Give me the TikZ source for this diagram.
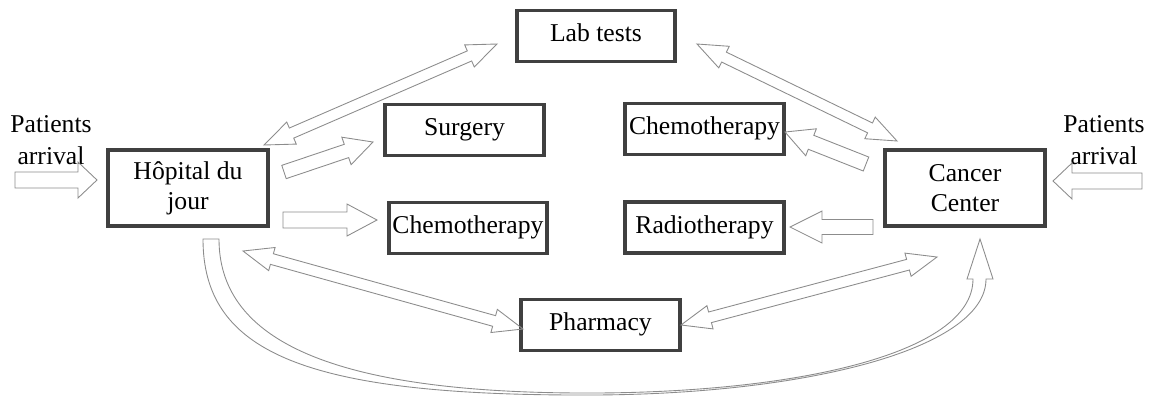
\documentclass[tikz,border=0pt]{standalone}
\usepackage{fontspec}
\setmainfont{Liberation Serif}
\usetikzlibrary{calc}

\definecolor{boxgray}{HTML}{404040}
\definecolor{arrowgray}{HTML}{8C8C8C}

% outlined block arrow: from, to, shaft half width, head half width, head length
\newcommand{\blockarrow}[5]{%
\coordinate (ba) at ($(#2)!#5!(#1)$);
\draw[arrowline] ($(#1)!#3!90:(#2)$) -- ($(ba)!#3!90:(#2)$) -- ($(ba)!#4!90:(#2)$) -- (#2)
  -- ($(ba)!#4!-90:(#2)$) -- ($(ba)!#3!-90:(#2)$) -- ($(#1)!#3!-90:(#2)$) -- cycle;}
% same with a head at both ends
\newcommand{\twoarrow}[5]{%
\coordinate (ta) at ($(#1)!#5!(#2)$);
\coordinate (tb) at ($(#2)!#5!(#1)$);
\draw[arrowline] (#1) -- ($(ta)!#4!90:(#2)$) -- ($(ta)!#3!90:(#2)$) -- ($(tb)!#3!90:(#2)$)
  -- ($(tb)!#4!90:(#2)$) -- (#2) -- ($(tb)!#4!-90:(#2)$) -- ($(tb)!#3!-90:(#2)$)
  -- ($(ta)!#3!-90:(#2)$) -- ($(ta)!#4!-90:(#2)$) -- cycle;}

\begin{document}
\begin{tikzpicture}
[x=0.02cm,y=-0.02cm,
 font=\fontsize{14.6pt}{17pt}\selectfont,
 box/.style={draw=boxgray,line width=2.2pt,minimum width=3.17cm,minimum height=1.02cm,inner sep=1pt,text height=0.66em,text depth=0pt},
 bigbox/.style={draw=boxgray,line width=2.2pt,minimum width=3.2cm,minimum height=1.52cm,inner sep=1pt,align=center},
 arrival/.style={align=center,font=\fontsize{14.6pt}{18.2pt}\selectfont},
 arrowline/.style={draw=arrowgray,line width=0.5pt}]
\useasboundingbox (0,0) rectangle (1151,396);

\node[box] (lab) at (596,36) {Lab tests};
\node[box] (surg) at (464.5,130) {Surgery};
\node[box] (chemo1) at (468,228) {Chemotherapy};
\node[box] (chemo2) at (704.5,129) {Chemotherapy};
\node[box] (radio) at (704.5,227.5) {Radiotherapy};
\node[box] (pharm) at (600.5,325) {Pharmacy};
\node[bigbox] (hop) at (188,188) {Hôpital du\\jour};
\node[bigbox] (cc) at (965,188) {Cancer\\Center};
\node[arrival] (in1) at (51,140) {Patients\\arrival};
\node[arrival] (in2) at (1104,140) {Patients\\arrival};

\coordinate (a1) at (15,180);   \coordinate (a1t) at (97,180);
\coordinate (a2) at (1142,181); \coordinate (a2t) at (1053,181);
\coordinate (a3) at (284,172);  \coordinate (a3t) at (373,142);
\coordinate (a4) at (283,220);  \coordinate (a4t) at (377,220);
\coordinate (a5) at (866,164);  \coordinate (a5t) at (785,132);
\coordinate (a6) at (873,227);  \coordinate (a6t) at (790,227);
\coordinate (b1) at (264,145);  \coordinate (b1t) at (497,44);
\coordinate (b2) at (697,44);   \coordinate (b2t) at (897,141);
\coordinate (b3) at (243,251);  \coordinate (b3t) at (523,329);
\coordinate (b4) at (681,325);  \coordinate (b4t) at (937,257);

\blockarrow{a1}{a1t}{0.16cm}{0.36cm}{0.38cm}
\blockarrow{a2}{a2t}{0.16cm}{0.36cm}{0.38cm}
\blockarrow{a3}{a3t}{0.14cm}{0.29cm}{0.56cm}
\blockarrow{a4}{a4t}{0.16cm}{0.32cm}{0.6cm}
\blockarrow{a5}{a5t}{0.15cm}{0.29cm}{0.56cm}
\blockarrow{a6}{a6t}{0.15cm}{0.32cm}{0.64cm}
\twoarrow{b1}{b1t}{0.11cm}{0.24cm}{0.6cm}
\twoarrow{b2}{b2t}{0.11cm}{0.24cm}{0.6cm}
\twoarrow{b3}{b3t}{0.11cm}{0.24cm}{0.6cm}
\twoarrow{b4}{b4t}{0.11cm}{0.24cm}{0.6cm}

% long curved arrow under the pharmacy
\draw[arrowline] (203,239) .. controls (203,350) and (300,395) .. (580,395)
  .. controls (800,396) and (986,350) .. (986,279) -- (993,279) -- (980,239) -- (967,279) -- (973,279)
  .. controls (973,355) and (790,394) .. (580,393) .. controls (320,392) and (219,335) .. (219,239) -- cycle;
\end{tikzpicture}
\end{document}
